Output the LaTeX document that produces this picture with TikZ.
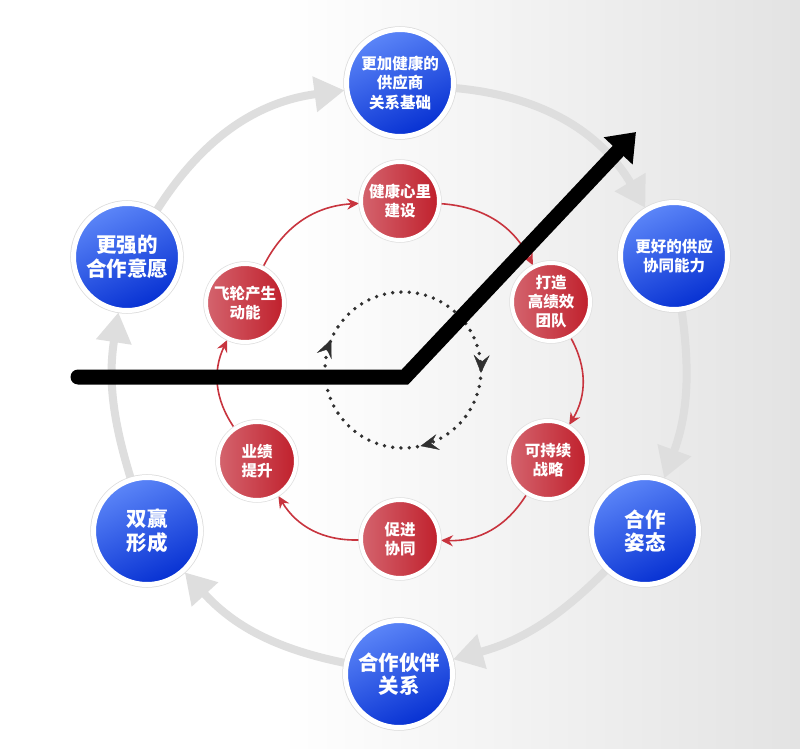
\documentclass[tikz,border=0pt]{standalone}
\usepackage{fontspec}
\setmainfont{Noto Sans CJK SC}
\usetikzlibrary{arrows.meta,decorations.markings,calc}
\pgfdeclarelayer{bg}
\pgfdeclarelayer{arr}
\pgfsetlayers{bg,arr,main}
\definecolor{blueL}{HTML}{5C86F8}
\definecolor{blueD}{HTML}{0630D2}
\definecolor{redL}{HTML}{D4646E}
\definecolor{redD}{HTML}{C0202C}
\definecolor{arcgray}{HTML}{DEDEDE}
\definecolor{redline}{HTML}{C8343E}
\definecolor{dotc}{HTML}{303030}
\tikzset{
  bluenode/.style={circle, inner sep=0pt, minimum size=107pt, draw=white, line width=5pt,
    top color=blueL, bottom color=blueD, shading angle=25, text=white, align=center,
    font=\bfseries\fontsize{20.5}{23.5}\selectfont,
    preaction={draw=black!14, line width=6.5pt}},
  bluesmall/.style={bluenode, font=\bfseries\fontsize{15.5}{19.5}\selectfont},
  rednode/.style={circle, inner sep=0pt, minimum size=78pt, draw=white, line width=4pt,
    left color=redL, right color=redD, text=white, align=center,
    font=\bfseries\fontsize{15.5}{19}\selectfont,
    preaction={draw=black!12, line width=5.5pt}},
  grayarrow/.style={draw=arcgray, line width=8pt, -{Triangle[length=30pt,width=34pt]}},
  redarrow/.style={draw=redline, line width=1.6pt, -{Stealth[length=12pt,width=11pt,inset=4pt]}},
  dotring/.style={dotc, line width=3.8pt, line cap=round, dash pattern=on 0pt off 8.307pt},
  bigarrow/.style={black, line width=15pt, line cap=round, -{Triangle[length=26pt,width=38pt]}}
}
\begin{document}
\begin{tikzpicture}[x=1pt,y=1pt]
\useasboundingbox (0,0) rectangle (800,748);
\begin{pgfonlayer}{bg}
  \fill[white] (0,0) rectangle (800,748);
  \shade[left color=white, right color=black!11] (280,0) rectangle (800,748);
\end{pgfonlayer}

% outer blue nodes
\node[bluesmall] (b1) at (400,665) {更加健康的\\供应商\\关系基础};
\node[bluesmall] (b2) at (674,492) {更好的供应\\协同能力};
\node[bluenode]  (b3) at (645,217) {合作\\姿态};
\node[bluenode]  (b4) at (399,74)  {合作伙伴\\关系};
\node[bluenode]  (b5) at (147,217) {双赢\\形成};
\node[bluenode]  (b6) at (127,491) {更强的\\合作意愿};

% inner red nodes
\node[rednode] (r1) at (400,547) {健康心里\\建设};
\node[rednode] (r2) at (551,446) {打造\\高绩效\\团队};
\node[rednode] (r3) at (548,288) {可持续\\战略};
\node[rednode] (r4) at (400,209) {促进\\协同};
\node[rednode] (r5) at (257,287) {业绩\\提升};
\node[rednode] (r6) at (245,445) {飞轮产生\\动能};

\coordinate (dc) at (403,378);
\coordinate (k0) at (78,371);
\coordinate (k1) at (405,371);
\coordinate (k2) at (636,616);

\begin{pgfonlayer}{arr}
  \draw[grayarrow] (b6) to[bend left=25] (b1);
  \draw[grayarrow] (b1) to[bend left=27] (b2);
  \draw[grayarrow] (b2) to[bend left=14] (b3);
  \draw[grayarrow] (b3) to[bend left=15] (b4);
  \draw[grayarrow] (b4) to[bend left=18] (b5);
  \draw[grayarrow] (b5) to[bend left=13] (b6);

  \draw[redarrow] (r6) to[bend left=30] (r1);
  \draw[redarrow] (r1) to[bend left=30] (r2);
  \draw[redarrow] (r2) to[bend left=30] (r3);
  \draw[redarrow] (r3) to[bend left=30] (r4);
  \draw[redarrow] (r4) to[bend left=30] (r5);
  \draw[redarrow] (r5) to[bend left=30] (r6);

  \draw[dotring] (dc) circle[radius=78pt];
  \path[decoration={markings,
      mark=at position 0.064 with {\arrow{Stealth[length=18pt,width=16pt,inset=7pt,color=dotc]}},
      mark=at position 0.506 with {\arrow{Stealth[length=18pt,width=16pt,inset=7pt,color=dotc]}},
      mark=at position 0.714 with {\arrow{Stealth[length=18pt,width=16pt,inset=7pt,color=dotc]}}},
    decorate] ($(dc)+(180:78pt)$) arc[start angle=180, end angle=-180, radius=78pt];

  \draw[bigarrow] (k0) -- (k1) -- (k2);
\end{pgfonlayer}
\end{tikzpicture}
\end{document}
